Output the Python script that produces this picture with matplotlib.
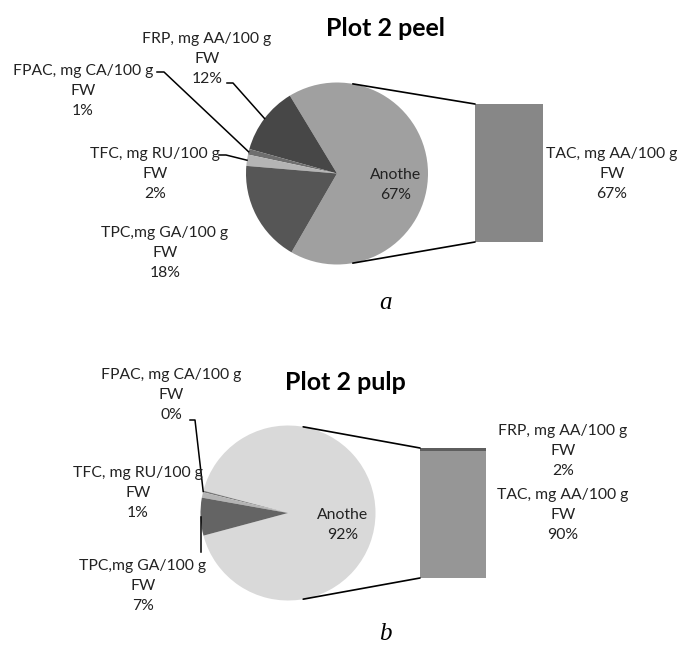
import numpy as np
import matplotlib.pyplot as plt
from matplotlib.patches import ConnectionPatch
from matplotlib.lines import Line2D

W, H = 683, 650

# peel data (percent of total)
peel_names = ["Anothe", "FRP, mg AA/100 g\nFW", "FPAC, mg CA/100 g\nFW",
              "TFC, mg RU/100 g\nFW", "TPC,mg GA/100 g\nFW"]
peel_vals = [67, 12, 1, 2, 18]
peel_cols = ["#a0a0a0", "#474747", "#6e6e6e", "#b4b4b4", "#565656"]
peel_bar_names = ["TAC, mg AA/100 g\nFW"]
peel_bar_vals = [67]
peel_bar_cols = ["#878787"]

# pulp data
pulp_names = ["Anothe", "FPAC, mg CA/100 g\nFW", "TFC, mg RU/100 g\nFW",
              "TPC,mg GA/100 g\nFW"]
pulp_vals = [92, 0.3, 1, 7]
pulp_cols = ["#d9d9d9", "#777777", "#b4b4b4", "#646464"]
pulp_bar_names = ["TAC, mg AA/100 g\nFW", "FRP, mg AA/100 g\nFW"]
pulp_bar_vals = [90, 2]
pulp_bar_cols = ["#969696", "#5e5e5e"]

plt.rcParams['font.family'] = ['Lato', 'DejaVu Sans']
FS = 11.3
LS = 1.55


def px_axes(fig, x0, y0, x1, y1):
    return fig.add_axes([x0 / W, 1 - y1 / H, (x1 - x0) / W, (y1 - y0) / H])


def label(fig, x, y, txt):
    fig.text(x / W, 1 - y / H, txt, ha="center", va="center",
             fontsize=FS, linespacing=LS, color="#222222")


def wedge_point(w, frac=0.5):
    ang = np.deg2rad(w.theta1 + frac * (w.theta2 - w.theta1))
    return w.center[0] + w.r * np.cos(ang), w.center[1] + w.r * np.sin(ang)


def leader(fig, ax, pts_px, w, frac=0.5):
    x, y = wedge_point(w, frac)
    disp = ax.transData.transform((x, y))
    fx, fy = fig.transFigure.inverted().transform(disp)
    xs = [p[0] / W for p in pts_px] + [fx]
    ys = [1 - p[1] / H for p in pts_px] + [fy]
    fig.add_artist(Line2D(xs, ys, color="black", lw=1.1))


def pie_of_bar(fig, pie_box, bar_box, vals, cols, start, bar_vals, bar_cols):
    ax = px_axes(fig, *pie_box)
    wedges, _ = ax.pie(vals, colors=cols, startangle=start, counterclock=True,
                       wedgeprops=dict(linewidth=0))
    ax.set_xlim(-1, 1)
    ax.set_ylim(-1, 1)
    ax.axis("off")

    bx = px_axes(fig, *bar_box)
    bottom = 0
    for v, c in zip(bar_vals, bar_cols):
        bx.bar(0, v, width=1, bottom=bottom, color=c, linewidth=0)
        bottom += v
    bx.set_xlim(-0.5, 0.5)
    bx.set_ylim(0, bottom)
    bx.axis("off")

    a = np.deg2rad(80)
    for sgn, yb in [(1, bottom), (-1, 0)]:
        con = ConnectionPatch(xyA=(np.cos(a), sgn * np.sin(a)), coordsA=ax.transData,
                              xyB=(-0.5, yb), coordsB=bx.transData,
                              color="black", lw=1.2)
        fig.add_artist(con)
    return ax, wedges


fig = plt.figure(figsize=(W / 100, H / 100), dpi=100)

# ---- a: peel ----
ax1, w1 = pie_of_bar(fig, (246, 82.5, 428, 264.5), (475, 104, 543, 242),
                     peel_vals, peel_cols, -120, peel_bar_vals, peel_bar_cols)
fig.text(385 / W, 1 - 28 / H, "Plot 2 peel", ha="center", va="center",
         fontsize=18, fontweight="bold")
ax1.text(0.64, -0.13, "%s\n%d%%" % (peel_names[0], peel_vals[0]), ha="center",
         va="center", fontsize=FS, linespacing=LS, color="#222222")
label(fig, 207, 59, "%s\n%d%%" % (peel_names[1], peel_vals[1]))
label(fig, 83, 91, "%s\n%d%%" % (peel_names[2], peel_vals[2]))
label(fig, 155, 174, "%s\n%d%%" % (peel_names[3], peel_vals[3]))
label(fig, 165, 253, "%s\n%d%%" % (peel_names[4], peel_vals[4]))
label(fig, 612, 174, "%s\n%d%%" % (peel_bar_names[0], peel_bar_vals[0]))
leader(fig, ax1, [(227, 83), (233, 83)], w1[1])
leader(fig, ax1, [(157, 72), (164, 72)], w1[2])
leader(fig, ax1, [(219, 155), (226, 155)], w1[3])
fig.text(385 / W, 1 - 303 / H, "a", ha="center", va="center", fontsize=18,
         family="Liberation Serif", style="italic")

# ---- b: pulp ----
ax2, w2 = pie_of_bar(fig, (200.5, 425.5, 375.5, 600.5), (420, 448, 486, 578),
                     pulp_vals, pulp_cols, 195, pulp_bar_vals, pulp_bar_cols)
fig.text(345 / W, 1 - 382 / H, "Plot 2 pulp", ha="center", va="center",
         fontsize=18, fontweight="bold")
ax2.text(0.62, -0.14, "%s\n%d%%" % (pulp_names[0], pulp_vals[0]), ha="center",
         va="center", fontsize=FS, linespacing=LS, color="#222222")
label(fig, 171, 395, "%s\n%.0f%%" % (pulp_names[1], pulp_vals[1]))
label(fig, 138, 493, "%s\n%d%%" % (pulp_names[2], pulp_vals[2]))
label(fig, 143, 586, "%s\n%d%%" % (pulp_names[3], pulp_vals[3]))
label(fig, 563, 451, "%s\n%d%%" % (pulp_bar_names[1], pulp_bar_vals[1]))
label(fig, 563, 515, "%s\n%d%%" % (pulp_bar_names[0], pulp_bar_vals[0]))
leader(fig, ax2, [(190, 420), (195, 420)], w2[1])
wx, wy = wedge_point(w2[3])
bx_disp = ax2.transData.transform((wx, wy))
leader(fig, ax2, [(bx_disp[0], 552)], w2[3])
fig.text(385 / W, 1 - 634 / H, "b", ha="center", va="center", fontsize=18,
         family="Liberation Serif", style="italic")

fig.savefig("out.png", dpi=100)
